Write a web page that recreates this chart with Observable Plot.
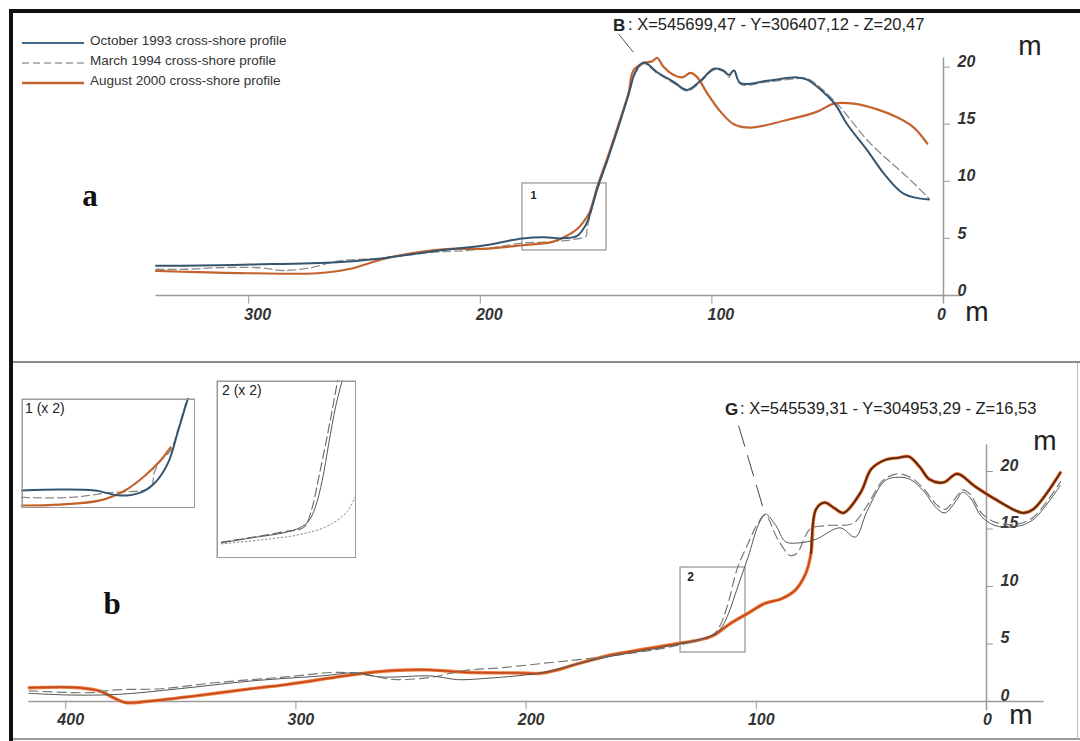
<!DOCTYPE html>
<html><head><meta charset="utf-8">
<script src="https://cdn.jsdelivr.net/npm/d3@7"></script>
<script src="https://cdn.jsdelivr.net/npm/@observablehq/plot@0.6"></script>
<style>
body{margin:0;background:#fff;}
#fig{position:relative;width:1080px;height:741px;overflow:hidden;background:#fff;font-family:"Liberation Sans",Arial,sans-serif;color:#333;}
#fig svg{position:absolute;}
</style></head><body><div id="fig"></div>
<script>
// ---------- tick labels ----------
const topXTicks = [300, 200, 100, 0];
const topYTicks = [0, 5, 10, 15, 20];
const botXTicks = [400, 300, 200, 100, 0];
const botYTicks = [0, 5, 10, 15, 20];

// ---------- legend / annotations ----------
const legendLabels = ["October 1993 cross-shore profile", "March 1994 cross-shore profile", "August 2000 cross-shore profile"];
const annotB = {name: "B", text: ": X=545699,47 - Y=306407,12 - Z=20,47"};
const annotG = {name: "G", text: ": X=545539,31 - Y=304953,29 - Z=16,53"};

// ---------- panel a (distance m, elevation m) ----------
const topOct1993 = [[340,2.6],[328.7,2.6],[299.2,2.71],[261.8,2.92],[241.8,3.27],[220.2,3.88],[198.6,4.38],[181.8,5.0],[172.2,5.1],[165.3,5.0],[158.3,5.2],[155.6,5.8],[153.5,6.6],[149.4,9.4],[145.2,11.8],[139.5,15.3],[136,17.6],[133,19.6],[129.4,20.4],[123.6,19.55],[116.5,18.7],[110.7,18.0],[104.9,18.8],[99.2,19.85],[94.9,19.7],[92.7,19.3],[90.5,19.7],[87.7,18.6],[76.1,18.8],[63.2,19.1],[58.9,18.9],[47.4,16.9],[41.6,15.0],[32.9,12.7],[25.8,10.7],[17.1,8.9],[6.3,8.4]];
const topMar1994 = [[340,2.3],[328.7,2.28],[313.6,2.43],[295,2.43],[285,2.19],[273.3,2.43],[261.8,3.0],[241.8,3.27],[220.2,3.79],[205.7,3.94],[191.3,4.29],[181.8,4.6],[170.1,4.7],[158.3,4.95],[154.3,5.2],[154,5.7],[153.1,6.6],[149.4,9.3],[145.2,11.8],[139.5,15.3],[136,17.5],[133,19.5],[129.4,20.3],[123.6,19.45],[116.5,18.6],[110.7,17.9],[104.9,18.7],[99.2,19.75],[94.9,19.6],[92.7,19.1],[90.5,19.8],[87.7,18.5],[76.1,18.7],[63.2,19.0],[58.9,19.0],[47.4,17.1],[31.5,13.3],[14.2,10.1],[6.3,8.5]];
const topAug2000 = [[340,2.15],[328.7,2.08],[299.2,1.95],[270.4,1.95],[256,2.34],[241.8,3.21],[227.2,3.79],[212.9,4.09],[198.6,4.09],[181.8,4.4],[168.8,4.7],[163.9,5.1],[158.3,5.8],[155.6,6.4],[152.8,7.3],[149.4,9.6],[145.2,12.0],[139.5,15.5],[136,17.7],[133.9,19.7],[129.5,20.35],[125.8,20.5],[123.6,20.8],[120.8,20.0],[116.5,19.3],[112.8,19.1],[109.2,19.5],[106.3,19.1],[102,17.7],[96.3,16.1],[90.5,15.0],[83.3,14.7],[69,15.3],[54.5,16.1],[47.4,16.8],[38.7,16.8],[28.6,16.3],[20,15.6],[12.8,14.7],[7,13.3]];
const box1 = {x1: 181.8, x2: 145.5, y1: 3.94, y2: 9.81, label: "1"};

// ---------- inset 1 (x2 of box 1) ----------
const ins1Oct1993 = [[181.8,4.9],[173.8,4.95],[166.5,4.9],[161.2,4.63],[157,4.79],[153.9,5.33],[151.2,6.39],[149.1,8.1],[147.2,9.7],[146.1,10.5]];
const ins1Mar1994 = [[181.8,4.53],[171.7,4.53],[163.3,4.79],[154.9,5.06],[154.1,5.86],[152.8,6.5],[150.7,7.03],[149.1,8.21],[147.2,9.81],[146.1,10.5]];
const ins1Aug2000 = [[181.8,4.1],[173.8,4.15],[165.4,4.37],[160.2,4.9],[156,5.7],[152.8,6.5],[150.7,7.2]];

// ---------- panel b ----------
const botOct1993 = [[415.9,0.71],[397.3,0.56],[377.1,0.62],[350.7,1.11],[319.7,1.78],[288.7,2.23],[273.2,2.5],[263.9,2.14],[242.1,2.23],[235.9,2.08],[229.8,1.9],[218.9,1.99],[193.7,2.49],[178.8,3.23],[163.8,3.91],[148.9,4.43],[133.9,4.98],[118.9,5.79],[115.6,6.3],[112.6,7.4],[108,10.0],[103.5,12.6],[99.2,15.3],[96.1,16.3],[91.5,15.3],[87.3,13.9],[81,13.8],[74.1,14.1],[63.6,15.1],[57,14.3],[52,16.5],[44.1,19.2],[38,19.5],[33,19.3],[27.3,18.3],[21.6,16.8],[18,16.4],[12.7,17.6],[10.4,18.2],[7,17.7],[2.2,16.1],[-3.7,15.3],[-12.5,15.2],[-20.2,15.8],[-32.1,18.8]];
const botMar1994 = [[415.9,0.93],[389.5,0.77],[378.7,1.01],[358.5,1.11],[335.2,1.63],[304.2,2.14],[280.9,2.54],[267,2.23],[257.6,1.92],[242.1,2.08],[226.6,2.69],[211.1,2.93],[186.3,3.45],[178.8,3.6],[163.8,3.95],[148.9,4.35],[133.9,4.9],[118.9,5.8],[116,6.5],[112.6,8.3],[108.2,11.6],[103.9,13.6],[99.6,15.4],[96.1,16.2],[90.9,14.2],[85.3,12.7],[82.3,12.9],[76.6,15.0],[69.3,15.3],[58,15.5],[52,17.0],[45,19.2],[39,19.8],[33,19.5],[27.3,18.5],[21.6,17.1],[18,16.7],[12.7,17.9],[10.4,18.4],[7,18.0],[2.2,16.4],[-3.7,15.6],[-12.5,15.4],[-20.2,16.0],[-32.1,19.1]];
const botAug2000 = [[415.9,1.2],[394,1.2],[385,0.9],[379,0.3],[374,-0.1],[365,0.0],[345,0.45],[320,1.1],[304.2,1.47],[273.2,2.38],[257.6,2.69],[242.1,2.75],[226.6,2.54],[203.3,2.48],[193.7,2.45],[186.3,2.75],[178.8,3.2],[163.8,4.02],[148.9,4.54],[133.9,5.05],[126.4,5.28],[118.9,5.72],[111.5,6.75],[104,7.63],[96.5,8.51],[89,8.94],[83.1,9.68],[78.5,11.14],[76.2,12.9],[74.1,16.7],[70.3,17.3],[66,16.8],[62.1,16.4],[54.6,18.2],[50.1,20.2],[44.1,21.0],[38,21.2],[33.7,21.3],[29,20.4],[24.7,19.3],[18.7,19.05],[12.7,19.8],[5.3,18.75],[-3.7,17.6],[-15.7,16.4],[-20.2,16.7],[-32.1,19.9]];
const box2 = {x1: 132.9, x2: 104.7, y1: 4.26, y2: 11.65, label: "2"};

// ---------- inset 2 (x2 of box 2) ----------
const ins2Oct1993 = [[131.9,4.91],[125.4,5.13],[119.3,5.33],[116,5.55],[114.3,5.82],[113,6.39],[111.6,7.5],[110.3,9.02],[108.9,10.57],[107.6,11.65],[107.2,12.06]];
const ins2Mar1994 = [[131.9,4.94],[125.4,5.15],[119.3,5.37],[116,5.48],[115,5.61],[113.6,6.39],[112.3,7.63],[110.9,9.02],[109.6,10.42],[108.5,11.65],[108.1,12.06]];
const ins2Aug2000 = [[131.9,4.87],[122.7,5.06],[116,5.26],[110.6,5.6],[106.6,6.2],[104.9,6.85]];

// leader lines (distance, elevation)
const leaderB = {x1: 140.3, y1: 22.9, x2: 133.9, y2: 21.3};
const leaderG = {x1: 107.7, y1: 24.0, x2: 97.3, y2: 17.0};

// ---------- helpers ----------
const fig = document.getElementById("fig");
const FONT = "Liberation Sans, Arial, sans-serif";
function div(css) { const d = document.createElement("div"); d.style.cssText = "position:absolute;" + css; fig.appendChild(d); return d; }
function txt(str, left, cy, css, center) {
  const d = div(`left:${left}px;top:${cy}px;white-space:nowrap;line-height:1;transform:translate(${center ? "-50%" : "0"},-50%);` + css);
  d.textContent = str; return d;
}
function place(svg, left, top) { svg.style.left = left + "px"; svg.style.top = top + "px"; fig.appendChild(svg); }
const P = d => d[0], E = d => d[1];
const tickFont = {fontSize: 16, fontWeight: "bold", fontStyle: "italic", fill: "#333", fontFamily: FONT};

// ---------- frame ----------
div("left:9px;top:9px;width:1071px;height:4px;background:#111;");
div("left:9px;top:9px;width:4px;height:732px;background:#111;");
div("left:13px;top:361px;width:1067px;height:2px;background:#8a8a8a;");
div("left:13px;top:738px;width:1067px;height:2px;background:#9a9a9a;");
div("left:1077px;top:363px;width:1px;height:376px;background:#bbb;");

// ---------- panel a ----------
const topX = {domain: [340, -25], range: [943 - 2.316 * 340, 943 + 2.316 * 25], axis: null};
const topY = {domain: [0, 20], range: [295, 295 - 11.42 * 20], axis: null};
const plotA = Plot.plot({
  width: 1080, height: 362, margin: 0, x: topX, y: topY,
  style: {background: "transparent", overflow: "visible"},
  marks: [
    Plot.ruleY([0], {x1: 340, x2: -8, stroke: "#9a9a9a", strokeWidth: 1.5}),
    Plot.ruleX([0], {y1: -0.7, y2: 20.8, stroke: "#9a9a9a", strokeWidth: 1.5}),
    Plot.ruleX(topXTicks, {x: d => d, y1: 0, y2: -0.75, stroke: "#9a9a9a"}),
    Plot.ruleY(topYTicks, {y: d => d, x1: 0, x2: -3, stroke: "#9a9a9a"}),
    Plot.text(topXTicks.filter(d => d !== 0), {x: d => d, y: 0, text: d => String(d), dy: 19, dx: 9, ...tickFont}),
    Plot.text(topXTicks.filter(d => d === 0), {x: d => d, y: 0, text: d => String(d), dy: 19, dx: -2, ...tickFont}),
    Plot.text(topYTicks, {x: 0, y: d => d, text: d => String(d), dx: 14, dy: -5, textAnchor: "start", ...tickFont}),
    Plot.rect([box1], {x1: "x1", x2: "x2", y1: "y1", y2: "y2", fill: "none", stroke: "#9a9a9a", strokeWidth: 1.3}),
    Plot.text([box1], {x: "x1", y: "y2", text: "label", dx: 11, dy: 12, fontSize: 11, fontWeight: "bold", fill: "#222", fontFamily: FONT}),
    Plot.line(topMar1994, {x: P, y: E, stroke: "#8c8c8c", strokeWidth: 1.3, strokeDasharray: "8,4", curve: "catmull-rom"}),
    Plot.line(topAug2000, {x: P, y: E, stroke: "#c4622d", strokeWidth: 2.2, curve: "catmull-rom"}),
    Plot.line(topOct1993, {x: P, y: E, stroke: "#35566e", strokeWidth: 2, curve: "catmull-rom"}),
    Plot.link([leaderB], {x1: "x1", y1: "y1", x2: "x2", y2: "y2", stroke: "#555", strokeWidth: 1})
  ]
});
place(plotA, 0, 0);

// ---------- panel b ----------
const botX = {domain: [416, -25], range: [986 - 2.302 * 416, 986 + 2.302 * 25], axis: null};
const botY = {domain: [0, 20], range: [701 - 362, 701 - 362 - 11.5 * 20], axis: null};
const plotB = Plot.plot({
  width: 1080, height: 379, margin: 0, x: botX, y: botY,
  style: {background: "transparent", overflow: "visible"},
  marks: [
    Plot.ruleY([0], {x1: 416, x2: -25, stroke: "#9a9a9a", strokeWidth: 1.5}),
    Plot.ruleX([0], {y1: -0.8, y2: 22.3, stroke: "#9a9a9a", strokeWidth: 1.5}),
    Plot.ruleX(botXTicks, {x: d => d, y1: 0, y2: -0.72, stroke: "#9a9a9a"}),
    Plot.ruleY(botYTicks, {y: d => d, x1: 0, x2: -3, stroke: "#9a9a9a"}),
    Plot.text(botXTicks.filter(d => d !== 0), {x: d => d, y: 0, text: d => String(d), dy: 18, dx: 5, ...tickFont}),
    Plot.text(botXTicks.filter(d => d === 0), {x: d => d, y: 0, text: d => String(d), dy: 18, dx: 1, ...tickFont}),
    Plot.text(botYTicks, {x: 0, y: d => d, text: d => String(d), dx: 14, dy: -6, textAnchor: "start", ...tickFont}),
    Plot.rect([box2], {x1: "x1", x2: "x2", y1: "y1", y2: "y2", fill: "none", stroke: "#9a9a9a", strokeWidth: 1.3}),
    Plot.text([box2], {x: "x1", y: "y2", text: "label", dx: 10, dy: 10, fontSize: 12, fontWeight: "bold", fill: "#222", fontFamily: FONT}),
    Plot.line(botAug2000, {x: P, y: E, stroke: "#f27a3c", strokeWidth: 3.4, curve: "catmull-rom"}),
    Plot.line(botAug2000, {x: P, y: E, stroke: "#c24b1c", strokeWidth: 1.6, curve: "catmull-rom"}),
    Plot.line(botAug2000.filter(d => d[0] <= 76.2), {x: P, y: E, stroke: "#5a2a14", strokeWidth: 1.8, curve: "catmull-rom"}),
    Plot.line(botMar1994, {x: P, y: E, stroke: "#777", strokeWidth: 1.2, strokeDasharray: "9,5", curve: "catmull-rom"}),
    Plot.line(botOct1993, {x: P, y: E, stroke: "#555", strokeWidth: 1, curve: "catmull-rom"}),
    Plot.link([leaderG], {x1: "x1", y1: "y1", x2: "x2", y2: "y2", stroke: "#444", strokeWidth: 1, strokeDasharray: "22,9"})
  ]
});
place(plotB, 0, 362);

// ---------- insets ----------
const inset1 = Plot.plot({
  width: 174, height: 110, margin: 0,
  x: {domain: [box1.x1, box1.x2], range: [0, 174], axis: null},
  y: {domain: [box1.y1, box1.y2], range: [110, 0], axis: null},
  style: {background: "white", overflow: "hidden"},
  marks: [
    Plot.line(ins1Mar1994, {x: P, y: E, stroke: "#8c8c8c", strokeWidth: 1.3, strokeDasharray: "8,4", curve: "catmull-rom"}),
    Plot.line(ins1Aug2000, {x: P, y: E, stroke: "#c4622d", strokeWidth: 2.2, curve: "catmull-rom"}),
    Plot.line(ins1Oct1993, {x: P, y: E, stroke: "#35566e", strokeWidth: 2, curve: "catmull-rom"}),
    Plot.frame({stroke: "#9a9a9a", strokeWidth: 1.5, inset: 0.75})
  ]
});
place(inset1, 21, 398);
const inset2 = Plot.plot({
  width: 140, height: 178, margin: 0,
  x: {domain: [box2.x1, box2.x2], range: [0, 140], axis: null},
  y: {domain: [box2.y1, box2.y2], range: [178, 0], axis: null},
  style: {background: "white", overflow: "hidden"},
  marks: [
    Plot.line(ins2Aug2000, {x: P, y: E, stroke: "#888", strokeWidth: 1, strokeDasharray: "1.5,2.5", curve: "catmull-rom"}),
    Plot.line(ins2Mar1994, {x: P, y: E, stroke: "#666", strokeWidth: 1.1, strokeDasharray: "9,4", curve: "catmull-rom"}),
    Plot.line(ins2Oct1993, {x: P, y: E, stroke: "#555", strokeWidth: 1, curve: "catmull-rom"}),
    Plot.frame({stroke: "#9a9a9a", strokeWidth: 1.5, inset: 0.75})
  ]
});
place(inset2, 216, 380);

// ---------- texts ----------
const swatchStyles = [
  {stroke: "#41678a", width: 2, dash: ""},
  {stroke: "#9a9a9a", width: 1.3, dash: "7,4"},
  {stroke: "#c0632e", width: 2.6, dash: ""}
];
legendLabels.forEach((lab, i) => {
  const cy = 41 + i * 20;
  const s = swatchStyles[i];
  const sw = div(`left:22px;top:${cy + 2 - 3}px;width:62px;height:6px;`);
  sw.innerHTML = `<svg width="62" height="6" style="position:absolute;left:0;top:0"><line x1="0" y1="3" x2="62" y2="3" stroke="${s.stroke}" stroke-width="${s.width}" ${s.dash ? `stroke-dasharray="${s.dash}"` : ""}/></svg>`;
  txt(lab, 90, cy, "font-size:13.5px;color:#333;");
});
txt("a", 90, 195, "font-family:'Liberation Serif',serif;font-weight:bold;font-size:31px;color:#111;", true);
txt("b", 112, 603, "font-family:'Liberation Serif',serif;font-weight:bold;font-size:31px;color:#111;", true);
txt(annotB.name, 613, 25, "font-size:17px;font-weight:bold;color:#222;");
txt(annotB.text, 628, 24, "font-size:16.5px;color:#222;");
txt(annotG.name, 725, 409, "font-size:17px;font-weight:bold;color:#222;");
txt(annotG.text, 740, 408, "font-size:16.5px;color:#222;");
txt("m", 1030, 46, "font-size:28px;color:#222;", true);
txt("m", 977, 312, "font-size:28px;color:#222;", true);
txt("m", 1045, 441, "font-size:28px;color:#222;", true);
txt("m", 1021, 715, "font-size:28px;color:#222;", true);
txt("1 (x 2)", 25, 408, "font-size:14px;color:#222;");
txt("2 (x 2)", 222, 390, "font-size:14px;color:#222;");
</script>
</body></html>
